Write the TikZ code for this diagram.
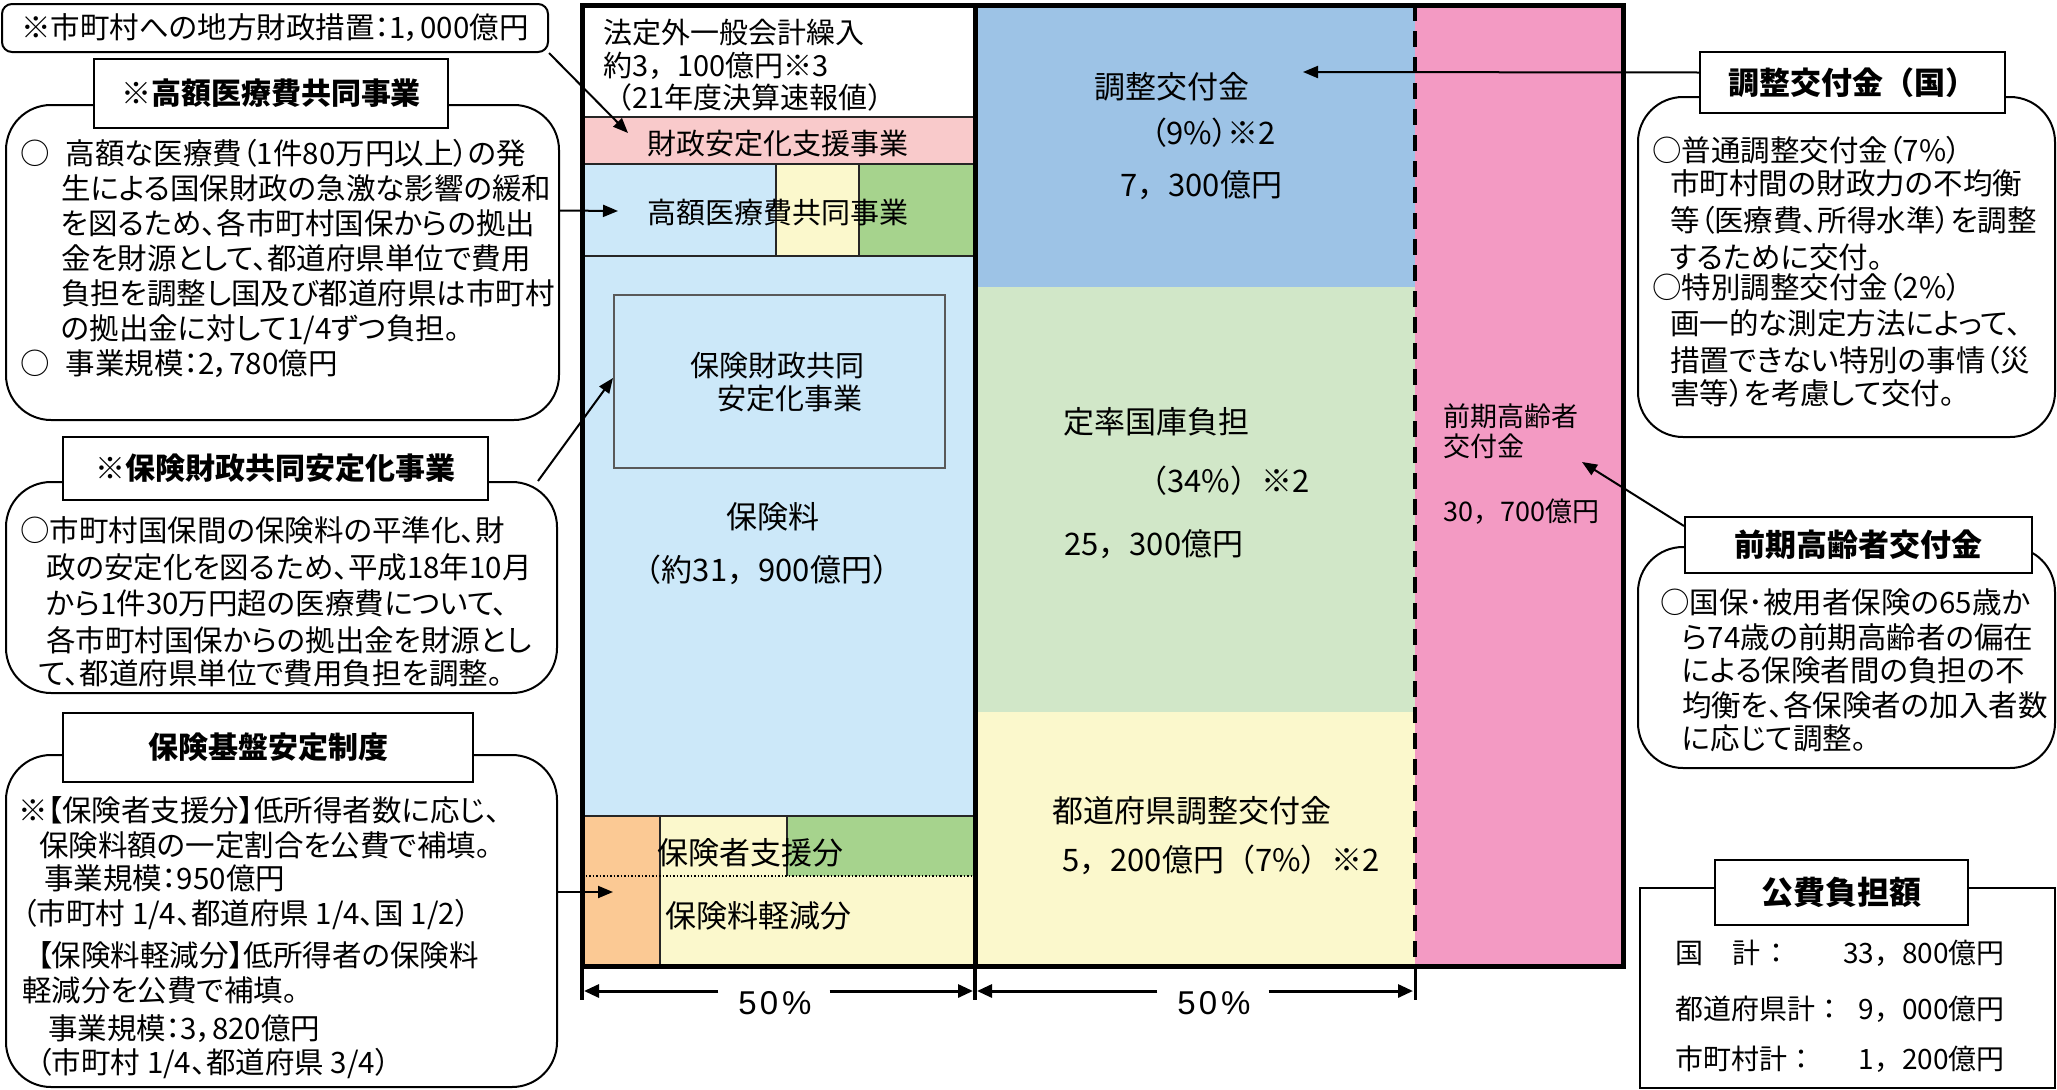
\documentclass[tikz,border=0pt]{standalone}
\usepackage{fontspec}
\usetikzlibrary{arrows.meta}
\newfontfamily\jp{Noto Sans CJK JP}
\newfontfamily\jpp[RawFeature=+palt]{Noto Sans CJK JP}
\newfontfamily\lsans{Liberation Sans}
\definecolor{cBlueL}{HTML}{CCE8F9}
\definecolor{cPinkL}{HTML}{F9CACB}
\definecolor{cYel}{HTML}{FBF8CC}
\definecolor{cGrn}{HTML}{A6D38D}
\definecolor{cOrg}{HTML}{FBC994}
\definecolor{cBlueM}{HTML}{9DC3E6}
\definecolor{cGrnM}{HTML}{D1E7C8}
\definecolor{cPink}{HTML}{F39AC3}
\tikzset{
 bodytxt/.style={font=\jpp\fontsize{29.5}{35}\selectfont, anchor=base west, inner sep=0pt},
 charttxt/.style={font=\jp\fontsize{29}{35}\selectfont, anchor=base west, inner sep=0pt},
 midtxt/.style={font=\jp\fontsize{31}{35}\selectfont, anchor=base west, inner sep=0pt},
 pinktxt/.style={font=\jp\fontsize{27}{35}\selectfont, anchor=base west, inner sep=0pt},
 pubtxt/.style={font=\jp\fontsize{28}{35}\selectfont, anchor=base west, inner sep=0pt},
 pcttxt/.style={font=\lsans\fontsize{33}{35}\selectfont, inner sep=0pt},
 rbox/.style={draw=black, line width=2pt, rounded corners=45pt, fill=white, inner sep=0pt},
 tbox/.style={draw=black, line width=2pt, fill=white, inner sep=0pt, font=\jp\bfseries\fontsize{30}{35}\selectfont},
 conn/.style={line width=2pt, -{Triangle[length=15pt,width=12pt]}},
 dimarr/.style={line width=3pt, -{Triangle[length=15pt,width=13pt]}},
 thinln/.style={line width=2pt, draw=black!85},
 heavy/.style={line width=5pt, draw=black},
}
\begin{document}
\begin{tikzpicture}[x=1pt,y=-1pt]
\useasboundingbox (0,0) rectangle (2057,1090);
\fill[white] (0,0) rectangle (2057,1090);

% ---------------- chart fills ----------------
\fill[white]  (582,5)   rectangle (975,117);
\fill[cPinkL] (582,117) rectangle (975,164);
\fill[cBlueL] (582,164) rectangle (776,256);
\fill[cYel]   (776,164) rectangle (859,256);
\fill[cGrn]   (859,164) rectangle (975,256);
\fill[cBlueL] (582,256) rectangle (975,816);
\fill[cOrg]   (582,816) rectangle (660,966);
\fill[cYel]   (660,816) rectangle (787,876);
\fill[cGrn]   (787,816) rectangle (975,876);
\fill[cYel]   (660,876) rectangle (975,966);
\fill[cBlueM] (975,5)   rectangle (1415,287);
\fill[cGrnM]  (975,287) rectangle (1415,712);
\fill[cYel]   (975,712) rectangle (1415,966);
\fill[cPink]  (1415,5)  rectangle (1623,966);

% thin lines
\draw[thinln] (582,117) -- (975,117);
\draw[thinln] (582,164) -- (975,164);
\draw[thinln] (776,164) -- (776,256);
\draw[thinln] (859,164) -- (859,256);
\draw[thinln] (582,256) -- (975,256);
\draw[line width=1.5pt, draw=black!65] (614,295) rectangle (945,468);
\draw[thinln] (582,816) -- (975,816);
\draw[thinln] (660,816) -- (660,966);
\draw[thinln] (787,816) -- (787,876);
\draw[line width=1.5pt, dotted] (582,876) -- (975,876);

% heavy borders
\draw[heavy] (582,5) rectangle (1623,966);
\draw[heavy] (975,5) -- (975,966);
\draw[line width=4.5pt, dash pattern=on 16pt off 10pt] (1415,5) -- (1415,966);

% dimension lines
\draw[line width=4pt] (582,966) -- (582,1000);
\draw[line width=4pt] (975,966) -- (975,1000);
\draw[line width=3pt] (1415,966) -- (1415,1000);
\node[pcttxt] (p50a) at (775,1003) {5\hspace{3pt}0\hspace{4pt}\%};
\node[pcttxt] (p50b) at (1214,1003) {5\hspace{3pt}0\hspace{4pt}\%};
\coordinate (d1l) at (584,991);
\coordinate (d1r) at (973,991);
\coordinate (d2l) at (977,991);
\coordinate (d2r) at (1413,991);
\draw[dimarr] (p50a.west |- d1l) ++(-20,0) -- (d1l);
\draw[dimarr] (p50a.east |- d1r) ++(18,0) -- (d1r);
\draw[dimarr] (p50b.west |- d2l) ++(-20,0) -- (d2l);
\draw[dimarr] (p50b.east |- d2r) ++(18,0) -- (d2r);

% ---------------- chart labels ----------------
\node[charttxt] (hg1) at (603,43)  {法定外一般会計繰入};
\node[charttxt] (hg2) at (603,76)  {約3，100億円※3};
\node[charttxt] (hg3) at (603,108) {（21年度決算速報値）};
\node[charttxt, anchor=base] (zs) at (778,154) {財政安定化支援事業};
\node[charttxt, anchor=base] (kg) at (778,223) {高額医療費共同事業};
\node[charttxt] (hz1) at (690,376) {保険財政共同};
\node[charttxt] (hz2) at (717,409) {安定化事業};
\node[midtxt, anchor=base] (hk1) at (773,528) {保険料};
\node[midtxt, anchor=base] (hk2) at (767,581) {（約31，900億円）};
\node[midtxt] (hs) at (657,864) {保険者支援分};
\node[midtxt] (hr) at (665,927) {保険料軽減分};

\node[midtxt] (ck1) at (1094,98)  {調整交付金};
\node[midtxt, font=\jpp\fontsize{31}{35}\selectfont] (ck2) at (1151,144) {（9\%）※2};
\node[midtxt] (ck3) at (1120,196) {7，300億円};
\node[midtxt] (tr1) at (1063,433) {定率国庫負担};
\node[midtxt] (tr2) at (1136,492) {（34\%）※2};
\node[midtxt] (tr3) at (1064,555) {25，300億円};
\node[midtxt] (tc1) at (1052,822) {都道府県調整交付金};
\node[midtxt] (tc2) at (1062,871) {5，200億円（7\%）※2};
\node[pinktxt] (zp1) at (1443,426) {前期高齢者};
\node[pinktxt] (zp2) at (1443,456) {交付金};
\node[pinktxt] (zp3) at (1443,521) {30，700億円};

% ---------------- left boxes ----------------
\node[rbox, rounded corners=10pt, minimum width=546pt, minimum height=48pt,
      font=\jpp\fontsize{29.5}{35}\selectfont] (t0) at (275,28) {※市町村への地方財政措置：1，000億円};

\node[rbox, minimum width=553pt, minimum height=315pt] (r1) at (282.5,262.5) {};
\node[tbox, minimum width=354pt, minimum height=69pt] (a1) at (271,93.5) {※高額医療費共同事業};
\node[bodytxt] (r1t1) at (20,164) {○\hspace{16pt}高額な医療費（1件80万円以上）の発};
\node[bodytxt] (r1t2) at (61,199) {生による国保財政の急激な影響の緩和};
\node[bodytxt] (r1t3) at (61,234) {を図るため、各市町村国保からの拠出};
\node[bodytxt] (r1t4) at (61,269) {金を財源として、都道府県単位で費用};
\node[bodytxt] (r1t5) at (61,304) {負担を調整し国及び都道府県は市町村};
\node[bodytxt] (r1t6) at (61,339) {の拠出金に対して1/4ずつ負担。};
\node[bodytxt] (r1t7) at (20,374) {○\hspace{16pt}事業規模：2，780億円};

\node[rbox, minimum width=551pt, minimum height=211pt] (r2) at (281.5,587.5) {};
\node[tbox, minimum width=425pt, minimum height=63pt] (a2) at (275.5,468.5) {※保険財政共同安定化事業};
\node[bodytxt] (r2t1) at (20,541) {○市町村国保間の保険料の平準化、財};
\node[bodytxt] (r2t2) at (46,578) {政の安定化を図るため、平成18年10月};
\node[bodytxt] (r2t3) at (46,614) {から1件30万円超の医療費について、};
\node[bodytxt] (r2t4) at (46,651) {各市町村国保からの拠出金を財源とし};
\node[bodytxt] (r2t5) at (39,684) {て、都道府県単位で費用負担を調整。};

\node[rbox, minimum width=551pt, minimum height=332pt] (r3) at (281.5,921) {};
\node[tbox, minimum width=410pt, minimum height=69pt] (a3) at (268,747.5) {保険基盤安定制度};
\node[bodytxt] (r3t1) at (18,821)  {※【保険者支援分】低所得者数に応じ、};
\node[bodytxt] (r3t2) at (39,856)  {保険料額の一定割合を公費で補填。};
\node[bodytxt] (r3t3) at (44,889)  {事業規模：950億円};
\node[bodytxt] (r3t4) at (22,924)  {（市町村 1/4、都道府県 1/4、国 1/2）};
\node[bodytxt] (r3t5) at (37,966)  {【保険料軽減分】低所得者の保険料};
\node[bodytxt] (r3t6) at (22,1001) {軽減分を公費で補填。};
\node[bodytxt] (r3t7) at (48,1039) {事業規模：3，820億円};
\node[bodytxt] (r3t8) at (37,1073) {（市町村 1/4、都道府県 3/4）};

% ---------------- right boxes ----------------
\node[rbox, minimum width=417pt, minimum height=340pt] (r4) at (1846.5,267) {};
\node[tbox, minimum width=305pt, minimum height=61pt, font=\jp\bfseries\fontsize{31}{35}\selectfont] (tk) at (1852.5,82.5) {調整交付金（国）};
\node[bodytxt] (r4t1) at (1652,161) {○普通調整交付金（7\%）};
\node[bodytxt] (r4t2) at (1670,194) {市町村間の財政力の不均衡};
\node[bodytxt] (r4t3) at (1670,231) {等（医療費、所得水準）を調整};
\node[bodytxt] (r4t4) at (1670,268) {するために交付。};
\node[bodytxt] (r4t5) at (1652,298) {○特別調整交付金（2\%）};
\node[bodytxt] (r4t6) at (1670,334) {画一的な測定方法によって、};
\node[bodytxt] (r4t7) at (1670,371) {措置できない特別の事情（災};
\node[bodytxt] (r4t8) at (1670,404) {害等）を考慮して交付。};

\node[rbox, minimum width=417pt, minimum height=221pt] (r5) at (1846.5,657.5) {};
\node[tbox, minimum width=347pt, minimum height=56pt, font=\jp\bfseries\fontsize{31}{35}\selectfont] (zk) at (1858.5,545) {前期高齢者交付金};
\node[bodytxt] (r5t1) at (1660,613) {○国保･被用者保険の65歳か};
\node[bodytxt] (r5t2) at (1682,648) {ら74歳の前期高齢者の偏在};
\node[bodytxt] (r5t3) at (1682,681) {による保険者間の負担の不};
\node[bodytxt] (r5t4) at (1682,716) {均衡を、各保険者の加入者数};
\node[bodytxt] (r5t5) at (1682,749) {に応じて調整。};

\node[draw=black, line width=2pt, fill=white, minimum width=415pt, minimum height=200pt, inner sep=0pt] (pb) at (1847.5,988) {};
\node[tbox, minimum width=253pt, minimum height=65pt, font=\jp\bfseries\fontsize{32}{35}\selectfont] (pk) at (1841.5,892.5) {公費負担額};
\node[pubtxt] (pb1a) at (1675,963) {国};
\node[pubtxt] (pb1b) at (1732,963) {計};
\node[pubtxt] (pb1c) at (1762,963) {：};
\node[pubtxt, anchor=base east] (pb1d) at (2005,963) {33，800億円};
\node[pubtxt] (pb2a) at (1675,1019) {都道府県計：};
\node[pubtxt, anchor=base east] (pb2d) at (2005,1019) {9，000億円};
\node[pubtxt] (pb3a) at (1675,1069) {市町村計：};
\node[pubtxt, anchor=base east] (pb3d) at (2005,1069) {1，200億円};

% ---------------- connectors ----------------
\coordinate (inPink) at (628,133);
\coordinate (inKg) at (618,211);
\coordinate (inHz) at (613,378);
\coordinate (inOrg) at (613,892);
\coordinate (inCk) at (1303,72);
\coordinate (inZp) at (1582,462);
\draw[conn] (t0.south east) -- (inPink);
\draw[conn] ([yshift=52pt]r1.east) -- (inKg);
\draw[conn] ([xshift=-20pt]r2.north east) -- (inHz);
\draw[conn] ([yshift=29pt]r3.east) -- (inOrg);
\draw[conn] ([yshift=10pt]tk.west) -- (inCk);
\draw[conn] ([yshift=-10pt]zk.north west) -- (inZp);
\end{tikzpicture}
\end{document}
